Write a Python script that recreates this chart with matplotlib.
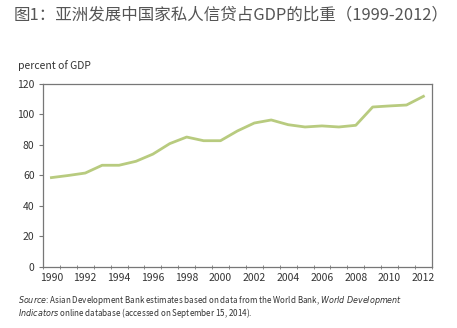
import numpy as np
import matplotlib
matplotlib.use("Agg")
import matplotlib.pyplot as plt

years = list(range(1990, 2013))
credit_pct_gdp = [58.6, 60.0, 61.6, 66.7, 66.7, 69.3, 74.0, 80.9, 85.2, 82.8, 82.8,
                  89.2, 94.4, 96.4, 93.3, 91.8, 92.5, 91.8, 92.9, 104.9, 105.6, 106.2, 111.9]
y_ticks = [0, 20, 40, 60, 80, 100, 120]
x_labels = [str(y) for y in range(1990, 2013, 2)]

title = "图1：亚洲发展中国家私人信贷占GDP的比重（1999-2012）"
ylabel = "percent of GDP"

plt.rcParams['font.family'] = ['Noto Sans CJK SC', 'DejaVu Sans']

fig = plt.figure(figsize=(4.57, 3.28), dpi=100)
ax = fig.add_axes([0.094, 0.186, 0.851, 0.558])

ax.plot(years, credit_pct_gdp, color="#b8cb7f", linewidth=2.0, solid_joinstyle="round")

ax.set_xlim(1989.5, 2012.5)
ax.set_ylim(0, 120)
ax.set_yticks(y_ticks)
ax.set_xticks(list(range(1990, 2013, 2)))
ax.set_xticklabels(x_labels)
ax.set_xticks(np.arange(1989.5, 2013, 1.0), minor=True)

spine_color = "#777777"
for s in ax.spines.values():
    s.set_color(spine_color)
    s.set_linewidth(0.9)

ax.tick_params(axis="x", which="major", length=0, labelsize=7.5, labelcolor="#333333", pad=4)
ax.tick_params(axis="x", which="minor", length=3, direction="inout", color=spine_color)
ax.tick_params(axis="y", length=3, direction="out", color=spine_color, labelsize=7.5,
               labelcolor="#333333", pad=3)

fig.text(0.03, 0.955, title, fontsize=11.9, color="#555555", va="center", ha="left")
fig.text(0.04, 0.80, ylabel, fontsize=7.5, color="#333333", va="center", ha="left")

fig.text(0.04, 0.085, r"$\it{Source}$: Asian Development Bank estimates based on data from the World Bank, "
         r"$\it{World\ Development}$", fontsize=5.8, color="#333333", va="center", ha="left")
fig.text(0.04, 0.045, r"$\it{Indicators}$ online database (accessed on September 15, 2014).",
         fontsize=5.8, color="#333333", va="center", ha="left")

fig.savefig("out.png", dpi=100)
